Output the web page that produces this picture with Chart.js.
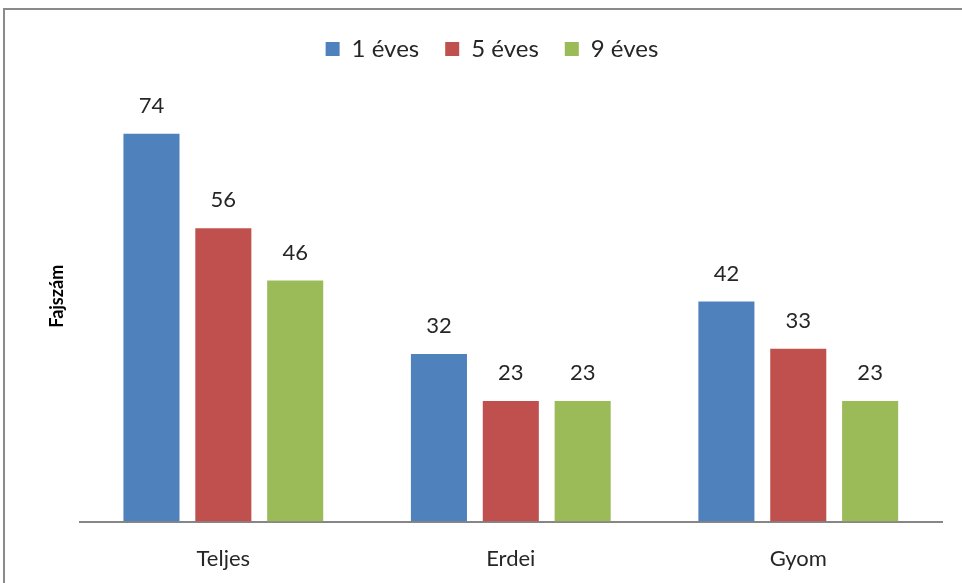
<!DOCTYPE html>
<html lang="hu">
<head>
    <meta charset="UTF-8">
    <title>Fajszám</title>
    <script src="https://cdn.jsdelivr.net/npm/chart.js"></script>
    <style>
        body { margin: 0; background: #fff; }
        .frame {
            position: absolute;
            left: 3px;
            top: 8px;
            width: 980px;
            height: 600px;
            border: 2px solid #8a8a8a;
        }
        .chart-box {
            position: absolute;
            left: 0;
            top: 0;
            width: 962px;
            height: 583px;
        }
    </style>
</head>
<body>
    <div class="frame"></div>
    <div class="chart-box">
        <canvas id="fajChart"></canvas>
    </div>
    <script>
        const categories = ["Teljes", "Erdei", "Gyom"];
        const seriesNames = ["1 éves", "5 éves", "9 éves"];
        const egyEves = [74, 32, 42];
        const otEves = [56, 23, 33];
        const kilencEves = [46, 23, 23];
        const colors = ["#4F81BD", "#C0504D", "#9BBB59"];

        const fontFamily = "Lato, 'Open Sans', sans-serif";

        // value labels above each bar
        const valueLabels = {
            id: "valueLabels",
            afterDatasetsDraw(chart) {
                const ctx = chart.ctx;
                ctx.save();
                ctx.font = "22px " + fontFamily;
                ctx.fillStyle = "#262626";
                ctx.textAlign = "center";
                ctx.textBaseline = "middle";
                chart.data.datasets.forEach((ds, i) => {
                    chart.getDatasetMeta(i).data.forEach((bar, j) => {
                        ctx.fillText(ds.data[j], bar.x, bar.y - 28);
                    });
                });
                ctx.restore();
            }
        };

        new Chart(document.getElementById("fajChart"), {
            type: "bar",
            data: {
                labels: categories,
                datasets: [
                    { label: seriesNames[0], data: egyEves, backgroundColor: colors[0] },
                    { label: seriesNames[1], data: otEves, backgroundColor: colors[1] },
                    { label: seriesNames[2], data: kilencEves, backgroundColor: colors[2] }
                ]
            },
            options: {
                responsive: true,
                maintainAspectRatio: false,
                animation: false,
                categoryPercentage: 0.75,
                barPercentage: 0.78,
                layout: {
                    padding: { left: 42, right: 20, top: 11, bottom: -5 }
                },
                plugins: {
                    legend: {
                        display: true,
                        position: "top",
                        labels: {
                            boxWidth: 14,
                            boxHeight: 14,
                            padding: 26,
                            color: "#262626",
                            font: { family: fontFamily, size: 24 }
                        }
                    },
                    tooltip: { enabled: false }
                },
                scales: {
                    x: {
                        grid: { display: false },
                        border: { display: true, color: "#868686", width: 2 },
                        ticks: {
                            padding: 16,
                            color: "#262626",
                            font: { family: fontFamily, size: 22 }
                        }
                    },
                    y: {
                        beginAtZero: true,
                        max: 86,
                        grid: { display: false },
                        border: { display: false },
                        ticks: { display: false },
                        title: {
                            display: true,
                            text: "Fajszám",
                            color: "#000",
                            font: { family: fontFamily, size: 18, weight: "bold" }
                        }
                    }
                }
            },
            plugins: [valueLabels]
        });
    </script>
</body>
</html>
